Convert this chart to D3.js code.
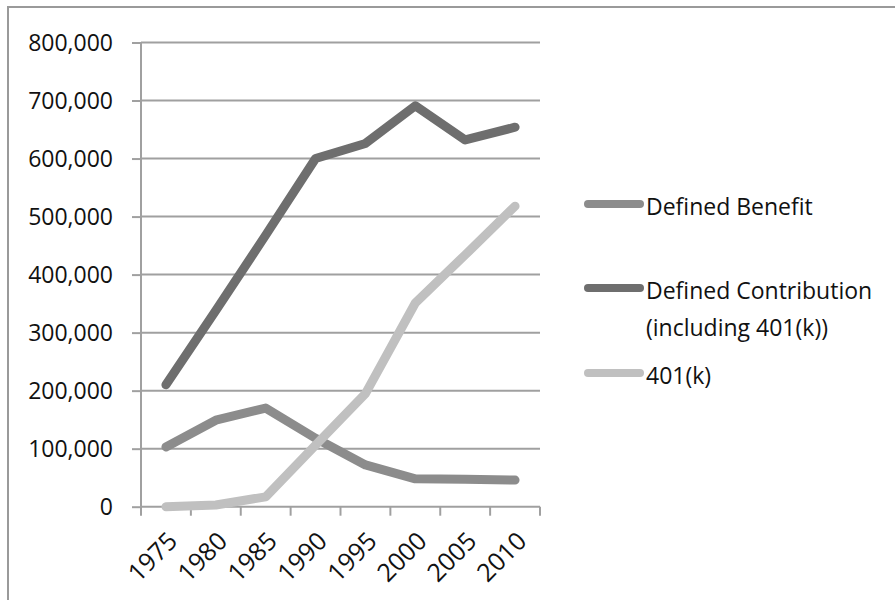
<!DOCTYPE html>
<html>
<head>
<meta charset="utf-8">
<script src="https://cdn.jsdelivr.net/npm/d3@7"></script>
<style>
  body { margin: 0; background: #fff; }
  svg { display: block; }
  text { font-family: "Open Sans", sans-serif; fill: #111; }
</style>
</head>
<body>
<svg id="chart" width="895" height="600"></svg>
<script>
const categories = ["1975", "1980", "1985", "1990", "1995", "2000", "2005", "2010"];
const definedBenefit = [103000, 149000, 170000, 118000, 72000, 48000, 47500, 46000];
const definedContribution = [210000, 338000, 468000, 600000, 626000, 691000, 632000, 654000];
const k401 = [0, 3000, 17000, 106000, 195000, 351000, 434000, 518000];
const yTicks = [0, 100000, 200000, 300000, 400000, 500000, 600000, 700000, 800000];

const seriesNames = ["Defined Benefit", "Defined Contribution (including 401(k))", "401(k)"];
const seriesColors = ["#8c8c8c", "#6e6e6e", "#c0c0c0"];
const series = [definedBenefit, definedContribution, k401];

const svg = d3.select("#chart");
const plotLeft = 141, plotRight = 540, plotTop = 42.5, plotBottom = 506.7;

// outer border
svg.append("rect").attr("x", 8).attr("y", 7).attr("width", 900).attr("height", 610)
  .attr("fill", "none").attr("stroke", "#9a9a9a").attr("stroke-width", 2);

const x = d3.scaleBand().domain(categories).range([plotLeft, plotRight]);
const y = d3.scaleLinear().domain([0, 800000]).range([plotBottom, plotTop]);

// gridlines
svg.append("g").selectAll("line").data(yTicks.filter(d => d > 0)).join("line")
  .attr("x1", plotLeft).attr("x2", plotRight)
  .attr("y1", d => y(d)).attr("y2", d => y(d))
  .attr("stroke", "#a0a0a0").attr("stroke-width", 2);

// y axis
const yAxis = svg.append("g").attr("transform", `translate(${plotLeft},0)`)
  .call(d3.axisLeft(y).tickValues(yTicks).tickSize(9).tickPadding(19)
    .tickFormat(d => d3.format(",")(d)));
yAxis.select(".domain").attr("stroke", "#a0a0a0").attr("stroke-width", 2).attr("d", `M0,${plotTop}V${plotBottom}`);
yAxis.selectAll(".tick line").attr("stroke", "#a0a0a0").attr("stroke-width", 2);
yAxis.selectAll("text").style("font-size", "23px").attr("fill", "#111").attr("dy", "0.35em");

// x axis
const xAxis = svg.append("g").attr("transform", `translate(0,${plotBottom})`)
  .call(d3.axisBottom(x).tickSize(0).tickFormat(d => d));
xAxis.select(".domain").attr("stroke", "#a0a0a0").attr("stroke-width", 2).attr("d", `M${plotLeft},0H${plotRight}`);
const bounds = categories.map(c => x(c)).concat([x(categories[categories.length - 1]) + x.bandwidth()]);
xAxis.append("g").selectAll("line").data(bounds).join("line")
  .attr("x1", d => d).attr("x2", d => d).attr("y1", 0).attr("y2", 9)
  .attr("stroke", "#a0a0a0").attr("stroke-width", 2);
xAxis.selectAll(".tick text")
  .style("font-size", "25px").attr("fill", "#111")
  .attr("text-anchor", "end")
  .attr("dy", null).attr("y", 0)
  .attr("transform", "translate(13,36) rotate(-45)");

// lines
const line = d3.line().x((d, i) => x(categories[i]) + x.bandwidth() / 2).y(d => y(d));
svg.append("g").selectAll("path").data(series).join("path")
  .attr("d", d => line(d))
  .attr("fill", "none")
  .attr("stroke", (d, i) => seriesColors[i])
  .attr("stroke-width", 9)
  .attr("stroke-linejoin", "round")
  .attr("stroke-linecap", "round");

// legend
const legendY = [204, 288, 373];
const legend = svg.append("g");
seriesNames.forEach((name, i) => {
  legend.append("line").attr("x1", 588).attr("x2", 640)
    .attr("y1", legendY[i]).attr("y2", legendY[i])
    .attr("stroke", seriesColors[i]).attr("stroke-width", 8).attr("stroke-linecap", "round");
  const t = legend.append("text").attr("x", 646).attr("y", legendY[i] + 11).style("font-size", "23px");
  if (i === 1) {
    t.append("tspan").attr("x", 646).text("Defined Contribution");
    t.append("tspan").attr("x", 646).attr("dy", 37).text("(including 401(k))");
  } else {
    t.text(name);
  }
});
</script>
</body>
</html>
